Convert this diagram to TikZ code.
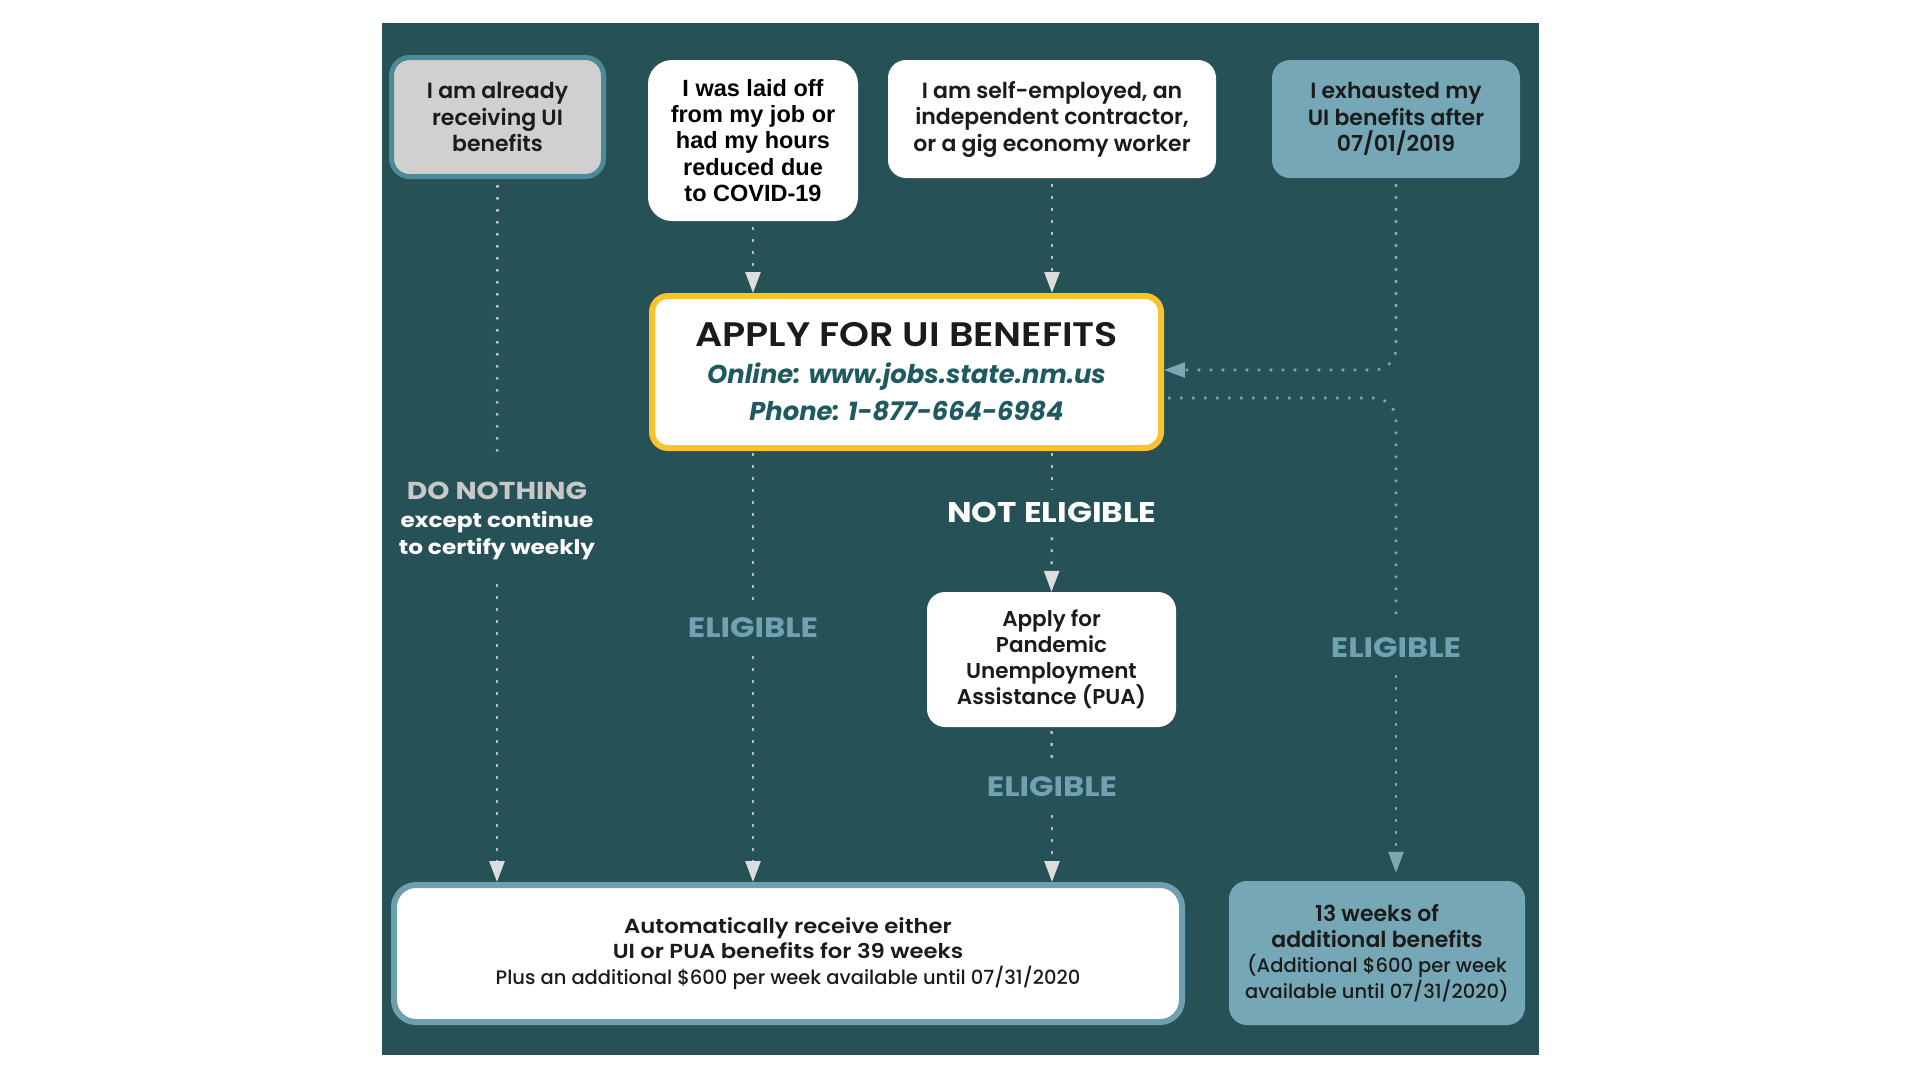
\documentclass[tikz,border=0pt]{standalone}
\usepackage{fontspec}
\setmainfont{Poppins}
\newfontfamily\pmed{Poppins Medium}
\newfontfamily\psemi{Poppins SemiBold}
\newfontfamily\psemiw{Poppins SemiBold}[FakeStretch=1.12]
\newfontfamily\pboldw{Poppins}[FakeStretch=1.15]
\newfontfamily\arialb{Liberation Sans}
\usetikzlibrary{arrows.meta}
\definecolor{panel}{HTML}{255157}
\definecolor{greyfill}{HTML}{D0D0D0}
\definecolor{greyborder}{HTML}{4D8A98}
\definecolor{lightblue}{HTML}{75A7B7}
\definecolor{resborder}{HTML}{6E9FAF}
\definecolor{yellowb}{HTML}{F9C22E}
\definecolor{tealtext}{HTML}{1E5A60}
\definecolor{eligc}{HTML}{72A2B2}
\definecolor{donoth}{HTML}{C8C8C8}
\definecolor{greyline}{HTML}{B8BEBF}
\definecolor{blueline}{HTML}{7FA6B2}
\definecolor{tipgrey}{HTML}{DDDDDD}
\definecolor{inktext}{HTML}{1B1B1B}
\begin{document}
\begin{tikzpicture}[x=1pt,y=-1pt,
  boxbase/.style={rounded corners=18pt, align=center, text=inktext, inner sep=0pt},
  whitebox/.style={boxbase, fill=white},
  greybox/.style={boxbase, fill=greyfill, draw=greyborder, line width=5pt},
  bluebox/.style={boxbase, fill=lightblue},
  applybox/.style={boxbase, fill=white, draw=yellowb, line width=6pt, rounded corners=16pt},
  resbox/.style={boxbase, fill=white, draw=resborder, line width=6pt, rounded corners=22pt},
  boxfont/.style={font=\psemi\fontsize{22}{26.5}\selectfont},
  lbl/.style={inner sep=0pt, align=center},
  eliglbl/.style={lbl, text=eligc, font=\pboldw\bfseries\fontsize{28}{30}\selectfont},
  dotline/.style={draw=greyline, line width=2.6pt, dash pattern=on 2.6pt off 9.4pt},
  bluedot/.style={draw=blueline, line width=2.6pt, dash pattern=on 2.6pt off 9.4pt},
  greytip/.style={-{Triangle[length=21pt,width=15pt,fill=tipgrey,color=tipgrey]}},
  bluetip/.style={-{Triangle[length=21pt,width=15pt,fill=blueline,color=blueline]}},
]
\useasboundingbox (0,0) rectangle (1920,1080);
\fill[white] (0,0) rectangle (1920,1080);
\fill[panel] (382,23) rectangle (1539,1055);

% top boxes
\node[greybox, boxfont, minimum width=212pt, minimum height=119pt] (b1) at (497.5,117)
  {I am already\\receiving UI\\benefits};
\node[whitebox, rounded corners=24pt, minimum width=210pt, minimum height=161pt,
  font=\arialb\bfseries\fontsize{23.5}{26.3}\selectfont, text=black] (b2) at (753,140.5)
  {I was laid off\\from my job or\\had my hours\\reduced due\\to COVID-19};
\node[whitebox, boxfont, minimum width=328pt, minimum height=118pt] (b3) at (1052,119)
  {I am self-employed, an\\independent contractor,\\or a gig economy worker};
\node[bluebox, boxfont, minimum width=248pt, minimum height=118pt] (b4) at (1396,119)
  {I exhausted my\\UI benefits after\\07/01/2019};

% apply box
\node[applybox, minimum width=509pt, minimum height=152pt,
  font=\fontsize{25.8}{37}\selectfont] (apply) at (906.5,372)
  {{\psemiw\fontsize{34}{40}\selectfont APPLY FOR UI BENEFITS}\\[0pt]
   {\color{tealtext}\bfseries\itshape Online: www.jobs.state.nm.us}\\
   {\color{tealtext}\bfseries\itshape Phone: 1-877-664-6984}};

% PUA box
\node[whitebox, minimum width=249pt, minimum height=135pt,
  font=\psemi\fontsize{21.5}{26}\selectfont] (pua) at (1051.5,659.5)
  {Apply for\\Pandemic\\Unemployment\\Assistance (PUA)};

% result boxes
\node[resbox, minimum width=788pt, minimum height=137pt,
  font=\fontsize{20}{25.5}\selectfont] (res) at (788,953.5)
  {{\psemiw\fontsize{20.3}{25}\selectfont Automatically receive either}\\
   {\psemiw\fontsize{20.3}{25}\selectfont UI or PUA benefits for 39 weeks}\\
   {\pmed\fontsize{19.5}{25}\selectfont Plus an additional \$600 per week available until 07/31/2020}};
\node[bluebox, minimum width=296pt, minimum height=144pt,
  font=\fontsize{20}{25.5}\selectfont] (extra) at (1377,953)
  {{\psemi\fontsize{22}{26.5}\selectfont 13 weeks of}\\
   {\psemi\fontsize{22}{26.5}\selectfont additional benefits}\\
   {\pmed\fontsize{19.5}{25}\selectfont (Additional \$600 per week}\\
   {\pmed\fontsize{19.5}{25}\selectfont available until 07/31/2020)}};

% labels
\node[lbl, font=\pboldw\bfseries\fontsize{20.2}{27.5}\selectfont] (dn) at (497,521)
  {{\color{donoth}\fontsize{24.5}{28}\selectfont DO NOTHING}\\
   {\color{white}except continue}\\
   {\color{white}to certify weekly}};
\node[eliglbl] (el1) at (753,628) {ELIGIBLE};
\node[lbl, text=white, font=\pboldw\bfseries\fontsize{28.5}{30}\selectfont] (ne) at (1052,512) {NOT ELIGIBLE};
\node[eliglbl] (el2) at (1052,787) {ELIGIBLE};
\node[eliglbl] (el3) at (1396,648) {ELIGIBLE};

% connectors
\draw[dotline, shorten <=6pt, shorten >=26pt] (b1.south) -- (dn.north);
\draw[dotline, greytip, shorten <=24pt] (dn.south) -- (dn.south |- res.north);
\draw[dotline, greytip, shorten <=6pt] (b2.south) -- (apply.north -| b2.south);
\draw[dotline, greytip, shorten <=6pt] (b3.south) -- (apply.north -| b3.south);
\draw[dotline, shorten <=2pt, shorten >=15pt] (apply.south -| b2.south) -- (el1.north);
\draw[dotline, greytip, shorten <=18pt] (el1.south) -- (el1.south |- res.north);
\draw[dotline, shorten <=2pt, shorten >=12pt] (apply.south -| b3.south) -- (ne.north);
\draw[dotline, greytip, shorten <=15pt] (ne.south) -- (pua.north);
\draw[dotline, shorten <=4pt, shorten >=17pt] (pua.south) -- (el2.north);
\draw[dotline, greytip, shorten <=18pt] (el2.south) -- (el2.south |- res.north);
\draw[bluedot, bluetip, rounded corners=22pt, shorten <=6pt] (b4.south) |- ([yshift=2pt]apply.east);
\draw[bluedot, rounded corners=22pt, shorten <=4pt, shorten >=20pt] ([yshift=-26pt]apply.east) -| (el3.north);
\draw[bluedot, bluetip, shorten <=17pt, shorten >=8pt] (el3.south) -- (el3.south |- extra.north);
\end{tikzpicture}
\end{document}
